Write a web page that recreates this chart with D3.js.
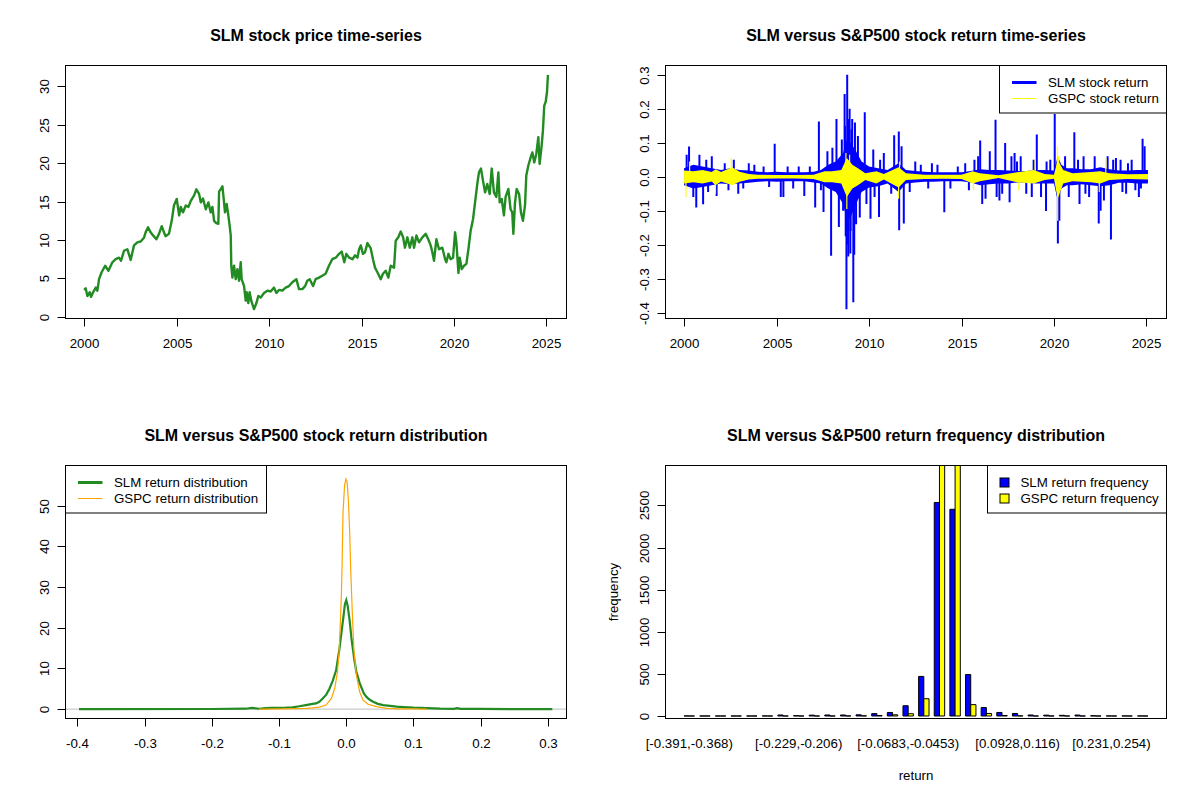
<!DOCTYPE html>
<html>
<head>
<meta charset="utf-8">
<script src="https://cdn.jsdelivr.net/npm/d3@7"></script>
<style>
  body { margin: 0; background: #ffffff; }
  svg { font-family: "Liberation Sans", Arial, Helvetica, sans-serif; }
</style>
</head>
<body>
<svg id="chart" width="1200" height="800"></svg>
<script>
// SLM vs S&P500 dashboard (2x2 panels, R base-graphics look)

// Step 1: data

// panel 1: SLM closing price (decimal year, price)
var priceYears = [2000.00, 2000.09, 2000.18, 2000.31, 2000.38, 2000.49, 2000.63, 2000.72, 2000.81, 2000.95,
  2001.14, 2001.32, 2001.53, 2001.71, 2001.89, 2002.00, 2002.16, 2002.34, 2002.52, 2002.70, 2002.88,
  2003.06, 2003.24, 2003.33, 2003.46, 2003.60, 2003.73, 2003.91, 2004.05, 2004.20, 2004.32, 2004.41,
  2004.59, 2004.74, 2004.86, 2005.01, 2005.14, 2005.23, 2005.35, 2005.50, 2005.64, 2005.77, 2005.95,
  2006.07, 2006.22, 2006.31, 2006.43, 2006.58, 2006.72, 2006.85, 2006.94, 2007.03, 2007.15, 2007.26,
  2007.30, 2007.39, 2007.48, 2007.55, 2007.62, 2007.71, 2007.80, 2007.87, 2007.93, 2007.96, 2008.02,
  2008.11, 2008.20, 2008.29, 2008.38, 2008.47, 2008.52, 2008.65, 2008.74, 2008.79, 2008.88, 2008.95,
  2009.05, 2009.19, 2009.32, 2009.42, 2009.55, 2009.73, 2009.91, 2010.09, 2010.27, 2010.40, 2010.54,
  2010.72, 2010.90, 2011.08, 2011.26, 2011.48, 2011.62, 2011.80, 2011.95, 2012.07, 2012.20, 2012.38,
  2012.52, 2012.70, 2012.88, 2013.06, 2013.24, 2013.42, 2013.61, 2013.79, 2013.93, 2014.07, 2014.18,
  2014.33, 2014.51, 2014.65, 2014.78, 2014.87, 2014.96, 2015.08, 2015.19, 2015.32, 2015.50, 2015.62,
  2015.73, 2015.86, 2016.04, 2016.16, 2016.31, 2016.45, 2016.58, 2016.76, 2016.85, 2016.99, 2017.12,
  2017.25, 2017.35, 2017.48, 2017.61, 2017.75, 2017.84, 2017.97, 2018.11, 2018.29, 2018.47, 2018.61,
  2018.74, 2018.83, 2018.92, 2019.05, 2019.19, 2019.37, 2019.52, 2019.59, 2019.70, 2019.82, 2019.95,
  2020.06, 2020.13, 2020.24, 2020.31, 2020.42, 2020.54, 2020.67, 2020.78, 2020.90, 2021.03, 2021.14,
  2021.26, 2021.35, 2021.46, 2021.57, 2021.68, 2021.80, 2021.93, 2022.04, 2022.16, 2022.29, 2022.40,
  2022.47, 2022.58, 2022.70, 2022.79, 2022.94, 2023.06, 2023.15, 2023.21, 2023.30, 2023.39, 2023.52,
  2023.62, 2023.73, 2023.84, 2023.91, 2024.02, 2024.15, 2024.24, 2024.34, 2024.45, 2024.56, 2024.63,
  2024.74, 2024.81, 2024.88, 2024.96, 2025.03, 2025.08];
var priceValues = [3.5, 3.7, 2.7, 3.2, 2.6, 3.2, 3.8, 3.4, 4.9, 5.8,
  6.65, 6.0, 7.1, 7.5, 7.7, 7.3, 8.6, 8.8, 7.4, 9.3, 9.7,
  9.8, 10.3, 11.0, 11.65, 11.0, 10.6, 10.1, 10.8, 11.8, 11.0, 10.5,
  10.8, 12.5, 14.5, 15.35, 13.2, 14.3, 13.6, 14.5, 14.3, 15.1, 15.8,
  16.6, 16.0, 14.9, 15.4, 14.0, 14.9, 13.6, 14.3, 12.5, 12.2, 12.1,
  16.3, 16.6, 17.0, 15.35, 13.6, 14.7, 13.2, 11.9, 10.6, 6.65, 5.1,
  6.65, 4.9, 6.2, 4.7, 7.1, 4.9, 4.0, 2.1, 3.2, 1.8, 3.2,
  2.0, 1.0, 1.8, 2.7, 2.5, 3.1, 3.4, 3.3, 3.8, 3.1, 3.5,
  3.4, 3.8, 4.0, 4.5, 4.9, 3.6, 3.6, 4.0, 4.7, 4.9, 4.0,
  4.9, 5.1, 5.35, 5.6, 6.65, 7.5, 7.7, 8.2, 8.5, 7.1, 8.2,
  7.7, 7.5, 8.0, 7.7, 8.8, 9.3, 8.2, 8.4, 9.6, 8.9, 7.5,
  6.4, 5.8, 4.9, 5.6, 6.0, 5.1, 6.65, 6.4, 9.9, 10.35, 11.1,
  10.35, 9.0, 10.35, 9.0, 10.35, 9.0, 10.6, 9.7, 10.35, 10.8, 10.1,
  9.3, 8.4, 7.3, 10.1, 8.8, 9.0, 7.5, 7.1, 8.2, 7.5, 7.7,
  11.0, 9.7, 5.7, 7.7, 6.2, 6.65, 6.9, 8.8, 11.2, 12.7, 14.9,
  17.3, 18.8, 19.3, 17.7, 16.2, 17.3, 16.0, 19.3, 16.2, 15.6, 18.8,
  14.9, 15.35, 13.2, 15.6, 16.65, 14.0, 13.6, 10.8, 14.9, 16.65, 16.0,
  13.6, 12.5, 14.5, 18.4, 19.7, 20.8, 21.4, 20.1, 21.2, 23.4, 19.9,
  22.3, 24.3, 27.5, 28.0, 29.3, 31.5];
var priceTicks = [0, 5, 10, 15, 20, 25, 30];
var yearTicks = [2000, 2005, 2010, 2015, 2020, 2025];

// panel 2: daily returns, drawn as the dense band plus the isolated spikes
var slmBandYears = [2000.0, 2000.5, 2001.0, 2001.5, 2002.0, 2002.5, 2003.0, 2003.5, 2004.0, 2004.5,
  2005.0, 2005.5, 2006.0, 2006.5, 2007.0, 2007.4, 2007.8, 2008.2, 2008.6, 2008.8, 2009.0, 2009.3,
  2009.6, 2010.0, 2010.5, 2011.0, 2011.6, 2012.0, 2012.5, 2013.0, 2013.5, 2014.0, 2014.5, 2015.0,
  2015.5, 2016.0, 2016.5, 2017.0, 2017.5, 2018.0, 2018.5, 2019.0, 2019.5, 2020.0, 2020.2, 2020.4,
  2020.7, 2021.0, 2021.5, 2022.0, 2022.5, 2023.0, 2023.5, 2024.0, 2024.5, 2025.08];
var slmBandHi = [0.025, 0.035, 0.03, 0.025, 0.02, 0.025, 0.02, 0.018, 0.015, 0.013,
  0.015, 0.013, 0.013, 0.013, 0.015, 0.02, 0.035, 0.045, 0.07, 0.11, 0.1, 0.075,
  0.045, 0.03, 0.025, 0.02, 0.04, 0.02, 0.017, 0.015, 0.013, 0.013, 0.013, 0.013,
  0.017, 0.022, 0.02, 0.02, 0.018, 0.017, 0.017, 0.02, 0.02, 0.018, 0.06, 0.035,
  0.025, 0.025, 0.022, 0.022, 0.028, 0.022, 0.018, 0.018, 0.02, 0.02];
var slmBandLo = [-0.025, -0.035, -0.03, -0.025, -0.02, -0.022, -0.02, -0.018, -0.015, -0.013,
  -0.015, -0.013, -0.013, -0.013, -0.017, -0.02, -0.035, -0.045, -0.08, -0.13, -0.12, -0.08,
  -0.045, -0.032, -0.028, -0.02, -0.045, -0.02, -0.017, -0.015, -0.015, -0.013, -0.013, -0.013,
  -0.017, -0.025, -0.022, -0.02, -0.02, -0.017, -0.017, -0.02, -0.02, -0.02, -0.07, -0.035,
  -0.025, -0.025, -0.022, -0.025, -0.028, -0.025, -0.018, -0.018, -0.02, -0.02];
var slmSpikeYears = [2000.14, 2000.27, 2000.5, 2000.66, 2000.83, 2001.03, 2001.2, 2001.3, 2001.5, 2001.76,
  2002.2, 2002.4, 2002.69, 2002.93, 2003.2, 2003.5, 2003.8, 2004.3, 2004.6, 2004.9, 2005.23, 2005.37,
  2005.6, 2005.9, 2006.2, 2006.5, 2006.8, 2007.09, 2007.29, 2007.4, 2007.54, 2007.75, 2007.95,
  2008.02, 2008.24, 2008.37, 2008.53, 2008.6, 2008.68, 2008.7, 2008.74, 2008.78, 2008.82, 2008.85,
  2008.88, 2008.9, 2008.95, 2008.99, 2009.0, 2009.05, 2009.09, 2009.15, 2009.2, 2009.24, 2009.3,
  2009.4, 2009.5, 2009.77, 2009.86, 2010.08, 2010.23, 2010.3, 2010.54, 2010.6, 2010.8, 2011.2,
  2011.36, 2011.61, 2011.63, 2011.76, 2011.88, 2012.2, 2012.5, 2012.8, 2013.2, 2013.4, 2013.7,
  2014.07, 2014.4, 2014.8, 2015.2, 2015.4, 2015.7, 2015.9, 2016.01, 2016.12, 2016.3, 2016.53,
  2016.84, 2016.9, 2017.05, 2017.2, 2017.36, 2017.6, 2017.7, 2017.87, 2018.0, 2018.2, 2018.5,
  2018.8, 2018.9, 2019.07, 2019.3, 2019.57, 2019.6, 2019.8, 2020.04, 2020.21, 2020.29, 2020.6,
  2020.8, 2021.1, 2021.3, 2021.38, 2021.6, 2021.7, 2021.9, 2022.2, 2022.42, 2022.52, 2022.7,
  2022.9, 2023.08, 2023.2, 2023.35, 2023.6, 2023.7, 2023.9, 2024.0, 2024.2, 2024.4, 2024.59,
  2024.7, 2024.79, 2024.9];
var slmSpikeValues = [0.065, 0.089, -0.06, -0.091, 0.065, -0.081, 0.05, -0.045, 0.06, -0.057,
  0.04, -0.04, 0.05, -0.05, -0.035, 0.04, 0.035, 0.03, -0.03, 0.097, -0.06, -0.06,
  0.03, -0.035, 0.03, -0.057, 0.03, -0.091, 0.163, -0.04, -0.104, 0.075, -0.233,
  0.085, 0.17, -0.148, 0.11, -0.1, 0.244, 0.15, -0.175, -0.39, 0.30, -0.2,
  -0.235, 0.17, 0.20, -0.226, -0.16, 0.14, 0.17, -0.37, -0.23, 0.16, -0.14,
  0.12, -0.12, 0.19, -0.08, -0.124, 0.08, -0.06, -0.119, 0.05, 0.07, -0.05,
  0.122, 0.133, -0.158, 0.09, -0.138, -0.045, 0.045, 0.035, -0.035, 0.04, 0.035,
  -0.105, -0.035, 0.03, 0.04, -0.04, 0.05, 0.06, 0.107, -0.08, -0.065, 0.075,
  0.168, -0.06, -0.07, -0.05, 0.099, -0.075, 0.06, 0.07, 0.045, 0.06, -0.05,
  -0.06, 0.05, 0.124, -0.06, -0.101, 0.045, 0.05, 0.185, -0.197, -0.13, 0.06,
  -0.06, 0.131, 0.05, -0.08, 0.06, -0.05, -0.06, 0.06, -0.138, -0.1, -0.07,
  0.06, -0.185, 0.05, 0.055, 0.05, -0.045, -0.05, 0.04, 0.05, -0.04, -0.06,
  -0.035, 0.112, 0.09];

var gspcBandYears = [2000.0, 2000.5, 2001.0, 2001.5, 2001.7, 2002.0, 2002.6, 2003.0, 2003.5, 2004.0,
  2005.0, 2006.0, 2007.0, 2007.6, 2008.0, 2008.5, 2008.8, 2009.1, 2009.4, 2009.8, 2010.4, 2010.8,
  2011.6, 2012.0, 2013.0, 2014.0, 2015.0, 2015.6, 2016.0, 2017.0, 2018.0, 2018.9, 2019.5, 2020.0,
  2020.2, 2020.5, 2021.0, 2022.0, 2022.5, 2023.0, 2024.0, 2025.08];
var gspcBandHi = [0.018, 0.016, 0.02, 0.014, 0.022, 0.014, 0.028, 0.015, 0.008, 0.006,
  0.005, 0.005, 0.006, 0.016, 0.016, 0.02, 0.055, 0.035, 0.025, 0.01, 0.016, 0.008,
  0.028, 0.01, 0.006, 0.006, 0.006, 0.016, 0.01, 0.004, 0.013, 0.02, 0.008, 0.006,
  0.05, 0.02, 0.01, 0.014, 0.016, 0.01, 0.007, 0.008];
var gspcBandLo = [-0.02, -0.016, -0.02, -0.014, -0.025, -0.014, -0.025, -0.015, -0.008, -0.006,
  -0.005, -0.005, -0.007, -0.016, -0.016, -0.02, -0.06, -0.035, -0.025, -0.01, -0.02, -0.008,
  -0.032, -0.01, -0.007, -0.006, -0.007, -0.02, -0.013, -0.004, -0.016, -0.02, -0.01, -0.006,
  -0.065, -0.02, -0.013, -0.016, -0.02, -0.01, -0.007, -0.008];
var gspcSpikeYears = [2000.1, 2000.3, 2001.7, 2002.55, 2008.75, 2008.8, 2008.95, 2011.6, 2011.65,
  2015.65, 2018.1, 2018.98, 2020.18, 2020.2, 2020.25, 2022.45, 2022.8];
var gspcSpikeValues = [-0.06, 0.045, -0.05, 0.055, 0.07, -0.095, 0.065, -0.065, 0.045,
  -0.04, -0.04, 0.05, 0.09, -0.13, 0.06, -0.045, 0.055];
var returnTicks = [-0.4, -0.3, -0.2, -0.1, 0.0, 0.1, 0.2, 0.3];
var returnTickLabels = ["-0.4", "-0.3", "-0.2", "-0.1", "0.0", "0.1", "0.2", "0.3"];

// panel 3: kernel density of the returns
var slmDensX = [-0.3975, -0.38, -0.2, -0.15, -0.14, -0.13, -0.12, -0.11, -0.1, -0.09, -0.08, -0.07,
  -0.06, -0.05, -0.045, -0.04, -0.035, -0.03, -0.025, -0.02, -0.015, -0.01, -0.007, -0.004, -0.002,
  0.0, 0.002, 0.005, 0.008, 0.012, 0.015, 0.02, 0.026, 0.03, 0.035, 0.04, 0.047, 0.055, 0.065,
  0.075, 0.085, 0.1, 0.12, 0.14, 0.16, 0.165, 0.17, 0.2, 0.25, 0.3065];
var slmDensY = [0.02, 0.02, 0.03, 0.1, 0.3, 0.1, 0.25, 0.3, 0.3, 0.35, 0.45, 0.7,
  1.0, 1.3, 1.4, 1.8, 2.6, 3.5, 5.0, 7.0, 9.6, 15.0, 19.0, 23.0, 25.8,
  26.8, 25.5, 21.8, 17.0, 12.2, 9.2, 6.4, 3.9, 3.0, 2.3, 1.8, 1.3, 1.0, 0.8,
  0.6, 0.5, 0.35, 0.25, 0.1, 0.08, 0.25, 0.08, 0.04, 0.02, 0.02];
var gspcDensX = [-0.13, -0.1, -0.08, -0.06, -0.05, -0.04, -0.03, -0.022, -0.017, -0.013, -0.0107,
  -0.0087, -0.0072, -0.0062, -0.0048, -0.0025, -0.0005, 0.0012, 0.0032, 0.0052, 0.0067, 0.0095,
  0.0116, 0.0151, 0.02, 0.025, 0.0324, 0.0448, 0.06, 0.08, 0.1, 0.12];
var gspcDensY = [0.0, 0.05, 0.1, 0.2, 0.3, 0.5, 1.0, 2.7, 5.2, 9.2, 14.1,
  21.5, 28.5, 35.4, 48.5, 55.0, 56.6, 56.0, 51.3, 43.0, 34.0, 21.5,
  14.1, 8.3, 4.2, 2.2, 1.2, 0.6, 0.2, 0.08, 0.05, 0.0];
var densMax = 57.6;
var densTicks = [0, 10, 20, 30, 40, 50];

// panel 4: return frequency per bin (30 equal bins)
var binLabels = ["[-0.391,-0.368)", "[-0.368,-0.345)", "[-0.345,-0.322)", "[-0.322,-0.299)",
  "[-0.299,-0.276)", "[-0.276,-0.252)", "[-0.252,-0.229)", "[-0.229,-0.206)", "[-0.206,-0.183)",
  "[-0.183,-0.16)", "[-0.16,-0.137)", "[-0.137,-0.114)", "[-0.114,-0.0914)", "[-0.0914,-0.0683)",
  "[-0.0683,-0.0453)", "[-0.0453,-0.0223)", "[-0.0223,0.00073)", "[0.00073,0.0238)",
  "[0.0238,0.0468)", "[0.0468,0.0698)", "[0.0698,0.0928)", "[0.0928,0.116)", "[0.116,0.139)",
  "[0.139,0.162)", "[0.162,0.185)", "[0.185,0.208)", "[0.208,0.231)", "[0.231,0.254)",
  "[0.254,0.277)", "[0.277,0.3]"];
var slmFreq = [1, 0, 0, 0, 0, 1, 12, 4, 10, 12, 12, 14, 28, 42, 122, 470, 2535, 2455, 492, 100,
  42, 30, 12, 10, 8, 11, 3, 1, 1, 1];
var gspcFreq = [0, 0, 0, 0, 0, 0, 0, 0, 0, 0, 1, 2, 5, 14, 27, 205, 3010, 2990, 135, 30,
  6, 2, 0, 0, 0, 0, 0, 0, 0, 0];
var freqMax = 2975;
var freqTicks = [0, 500, 1000, 1500, 2000, 2500];

// Step 2: helpers for the R-like panels

var svg = d3.select("#chart");
svg.append("rect").attr("width", 1200).attr("height", 800).attr("fill", "#ffffff");

function panel(col, row) {
  return { left: col * 600 + 65.5, right: col * 600 + 566.5, top: row * 400 + 65.5, bottom: row * 400 + 318.5 };
}

// R pads the data range by 4% on each side
function padRange(lo, hi) {
  var d = (hi - lo) * 0.04;
  return [lo - d, hi + d];
}

function drawTitle(p, title) {
  svg.append("text")
    .attr("x", (p.left + p.right) / 2)
    .attr("y", p.top - 24.5)
    .attr("text-anchor", "middle")
    .attr("font-size", 16)
    .attr("font-weight", "bold")
    .text(title);
}

function drawBox(p) {
  svg.append("rect")
    .attr("x", p.left).attr("y", p.top)
    .attr("width", p.right - p.left).attr("height", p.bottom - p.top)
    .attr("fill", "none").attr("stroke", "#000").attr("stroke-width", 1);
}

function bottomAxis(p, x, values, labels) {
  values.forEach(function (v, i) {
    var px = Math.round(x(v)) + 0.5;
    svg.append("line").attr("x1", px).attr("x2", px).attr("y1", p.bottom).attr("y2", p.bottom + 8)
      .attr("stroke", "#000");
    svg.append("text").attr("x", px).attr("y", p.bottom + 29)
      .attr("text-anchor", "middle").attr("font-size", 13.3).text(labels[i]);
  });
}

function leftAxis(p, y, values, labels) {
  values.forEach(function (v, i) {
    var py = Math.round(y(v)) + 0.5;
    svg.append("line").attr("x1", p.left - 8).attr("x2", p.left).attr("y1", py).attr("y2", py)
      .attr("stroke", "#000");
    svg.append("text")
      .attr("transform", "translate(" + (p.left - 17) + "," + py + ") rotate(-90)")
      .attr("text-anchor", "middle").attr("font-size", 13.3).text(labels[i]);
  });
}

function clipFor(p, id) {
  svg.append("clipPath").attr("id", id).append("rect")
    .attr("x", p.left).attr("y", p.top).attr("width", p.right - p.left).attr("height", p.bottom - p.top);
  return "url(#" + id + ")";
}

// legend box anchored to the top-left or top-right corner of the plot region
function drawLegend(p, side, items, kind) {
  var g = svg.append("g");
  var box = g.append("rect").attr("fill", "#fff").attr("stroke", "#000").attr("stroke-width", 1);
  var textStart = kind === "line" ? 48.5 : 33;
  var maxW = 0;
  var texts = items.map(function (it) {
    var t = g.append("text").attr("font-size", 13.3).attr("dy", "0.35em").text(it.label);
    maxW = Math.max(maxW, t.node().getComputedTextLength());
    return t;
  });
  var w = Math.round(textStart + maxW + 8);
  var h = 47.5;
  var bx = side === "right" ? p.right - w : p.left;
  box.attr("x", bx).attr("y", p.top).attr("width", w).attr("height", h);
  items.forEach(function (it, i) {
    var cy = p.top + 17 + i * 16;
    texts[i].attr("x", bx + textStart).attr("y", cy);
    if (kind === "line") {
      g.append("line").attr("x1", bx + 12.5).attr("x2", bx + 37).attr("y1", cy).attr("y2", cy)
        .attr("stroke", it.color).attr("stroke-width", it.width);
    } else {
      g.append("rect").attr("x", bx + 12.5).attr("y", cy - 4.5).attr("width", 9).attr("height", 9)
        .attr("fill", it.color).attr("stroke", "#000").attr("stroke-width", 1);
    }
  });
}

// Step 3: SLM stock price time-series
(function () {
  var p = panel(0, 0);
  var x = d3.scaleLinear().domain(padRange(2000.0, 2025.08)).range([p.left, p.right]);
  var ext = d3.extent(priceValues);
  var y = d3.scaleLinear().domain(padRange(ext[0], ext[1])).range([p.bottom, p.top]);
  var line = d3.line().x(function (d, i) { return x(priceYears[i]); }).y(function (d) { return y(d); });
  svg.append("path").datum(priceValues).attr("d", line)
    .attr("fill", "none").attr("stroke", "forestgreen").attr("stroke-width", 2.4)
    .attr("stroke-linejoin", "round");
  drawBox(p);
  bottomAxis(p, x, yearTicks, yearTicks.map(String));
  leftAxis(p, y, priceTicks, priceTicks.map(String));
  drawTitle(p, "SLM stock price time-series");
})();

// Step 4: SLM versus S&P500 return time-series
(function () {
  var p = panel(1, 0);
  var x = d3.scaleLinear().domain(padRange(2000.0, 2025.08)).range([p.left, p.right]);
  var lo = d3.min(slmSpikeValues.concat(slmBandLo));
  var hi = d3.max(slmSpikeValues.concat(slmBandHi));
  var y = d3.scaleLinear().domain(padRange(lo, hi)).range([p.bottom, p.top]);
  var clip = clipFor(p, "clipRet");
  var g = svg.append("g").attr("clip-path", clip);

  function series(years, bandHi, bandLo, spikeYears, spikeValues, color, width) {
    var area = d3.area()
      .x(function (d, i) { return x(years[i]); })
      .y0(function (d, i) { return y(bandLo[i]); })
      .y1(function (d) { return y(d); });
    g.append("path").datum(bandHi).attr("d", area).attr("fill", color).attr("stroke", "none");
    g.selectAll(null).data(spikeValues).enter().append("line")
      .attr("x1", function (d, i) { return x(spikeYears[i]); })
      .attr("x2", function (d, i) { return x(spikeYears[i]); })
      .attr("y1", y(0))
      .attr("y2", function (d) { return y(d); })
      .attr("stroke", color).attr("stroke-width", width);
  }
  series(slmBandYears, slmBandHi, slmBandLo, slmSpikeYears, slmSpikeValues, "#0000ff", 2);
  series(gspcBandYears, gspcBandHi, gspcBandLo, gspcSpikeYears, gspcSpikeValues, "#ffff00", 1.2);

  drawBox(p);
  bottomAxis(p, x, yearTicks, yearTicks.map(String));
  leftAxis(p, y, returnTicks, returnTickLabels);
  drawLegend(p, "right", [
    { label: "SLM stock return", color: "#0000ff", width: 3 },
    { label: "GSPC stock return", color: "#ffff00", width: 1 }
  ], "line");
  drawTitle(p, "SLM versus S&P500 stock return time-series");
})();

// Step 5: return distributions (density curves)
(function () {
  var p = panel(0, 1);
  var lo = d3.min(slmSpikeValues), hi = d3.max(slmSpikeValues);
  var x = d3.scaleLinear().domain(padRange(lo, hi)).range([p.left, p.right]);
  var y = d3.scaleLinear().domain(padRange(0, densMax)).range([p.bottom, p.top]);
  var clip = clipFor(p, "clipDens");
  var g = svg.append("g").attr("clip-path", clip);
  g.append("line").attr("x1", p.left).attr("x2", p.right).attr("y1", y(0)).attr("y2", y(0))
    .attr("stroke", "#bebebe").attr("stroke-width", 1);
  var slmLine = d3.line().x(function (d, i) { return x(slmDensX[i]); }).y(function (d) { return y(d); });
  var gspcLine = d3.line().x(function (d, i) { return x(gspcDensX[i]); }).y(function (d) { return y(d); });
  g.append("path").datum(slmDensY).attr("d", slmLine)
    .attr("fill", "none").attr("stroke", "forestgreen").attr("stroke-width", 2.2);
  g.append("path").datum(gspcDensY).attr("d", gspcLine)
    .attr("fill", "none").attr("stroke", "orange").attr("stroke-width", 1.2);
  drawBox(p);
  bottomAxis(p, x, returnTicks, returnTickLabels);
  leftAxis(p, y, densTicks, densTicks.map(String));
  drawLegend(p, "left", [
    { label: "SLM return distribution", color: "forestgreen", width: 3 },
    { label: "GSPC return distribution", color: "orange", width: 1 }
  ], "line");
  drawTitle(p, "SLM versus S&P500 stock return distribution");
})();

// Step 6: return frequency distribution (grouped bars)
(function () {
  var p = panel(1, 1);
  var n = binLabels.length;
  // each group = 1 unit gap + 2 bars of width 1
  var x = d3.scaleLinear().domain(padRange(1, n * 3)).range([p.left, p.right]);
  var y = d3.scaleLinear().domain([-0.01 * freqMax, freqMax]).range([p.bottom, p.top]);
  var clip = clipFor(p, "clipFreq");
  var g = svg.append("g").attr("clip-path", clip);
  function bars(values, offset, color) {
    // drawn as closed paths so empty bins still show their flat outline
    g.selectAll(null).data(values).enter().append("path")
      .attr("d", function (d, i) {
        var x0 = x(i * 3 + offset), x1 = x(i * 3 + offset + 1);
        var y0 = y(0), y1 = y(d);
        return "M" + x0 + "," + y0 + "V" + y1 + "H" + x1 + "V" + y0 + "Z";
      })
      .attr("fill", color).attr("stroke", "#000").attr("stroke-width", 1);
  }
  bars(slmFreq, 1, "#0000ff");
  bars(gspcFreq, 2, "#ffff00");
  drawBox(p);
  leftAxis(p, y, freqTicks, freqTicks.map(String));

  // bin names: R skips a label when it would touch the previous one
  var probe = svg.append("text").attr("font-size", 13.3).text("m");
  var gap = probe.node().getComputedTextLength();
  probe.remove();
  var lastRight = -Infinity;
  binLabels.forEach(function (lab, i) {
    var cx = x(i * 3 + 2);
    var t = svg.append("text").attr("x", cx).attr("y", p.bottom + 29)
      .attr("text-anchor", "middle").attr("font-size", 13.3).text(lab);
    var w = t.node().getComputedTextLength();
    if (cx - w / 2 < lastRight + gap) {
      t.remove();
    } else {
      lastRight = cx + w / 2;
    }
  });

  svg.append("text").attr("x", (p.left + p.right) / 2).attr("y", p.bottom + 61)
    .attr("text-anchor", "middle").attr("font-size", 13.3).text("return");
  svg.append("text")
    .attr("transform", "translate(" + (p.left - 48) + "," + ((p.top + p.bottom) / 2) + ") rotate(-90)")
    .attr("text-anchor", "middle").attr("font-size", 13.3).text("frequency");
  drawLegend(p, "right", [
    { label: "SLM return frequency", color: "#0000ff" },
    { label: "GSPC return frequency", color: "#ffff00" }
  ], "fill");
  drawTitle(p, "SLM versus S&P500 return frequency distribution");
})();
</script>
</body>
</html>
